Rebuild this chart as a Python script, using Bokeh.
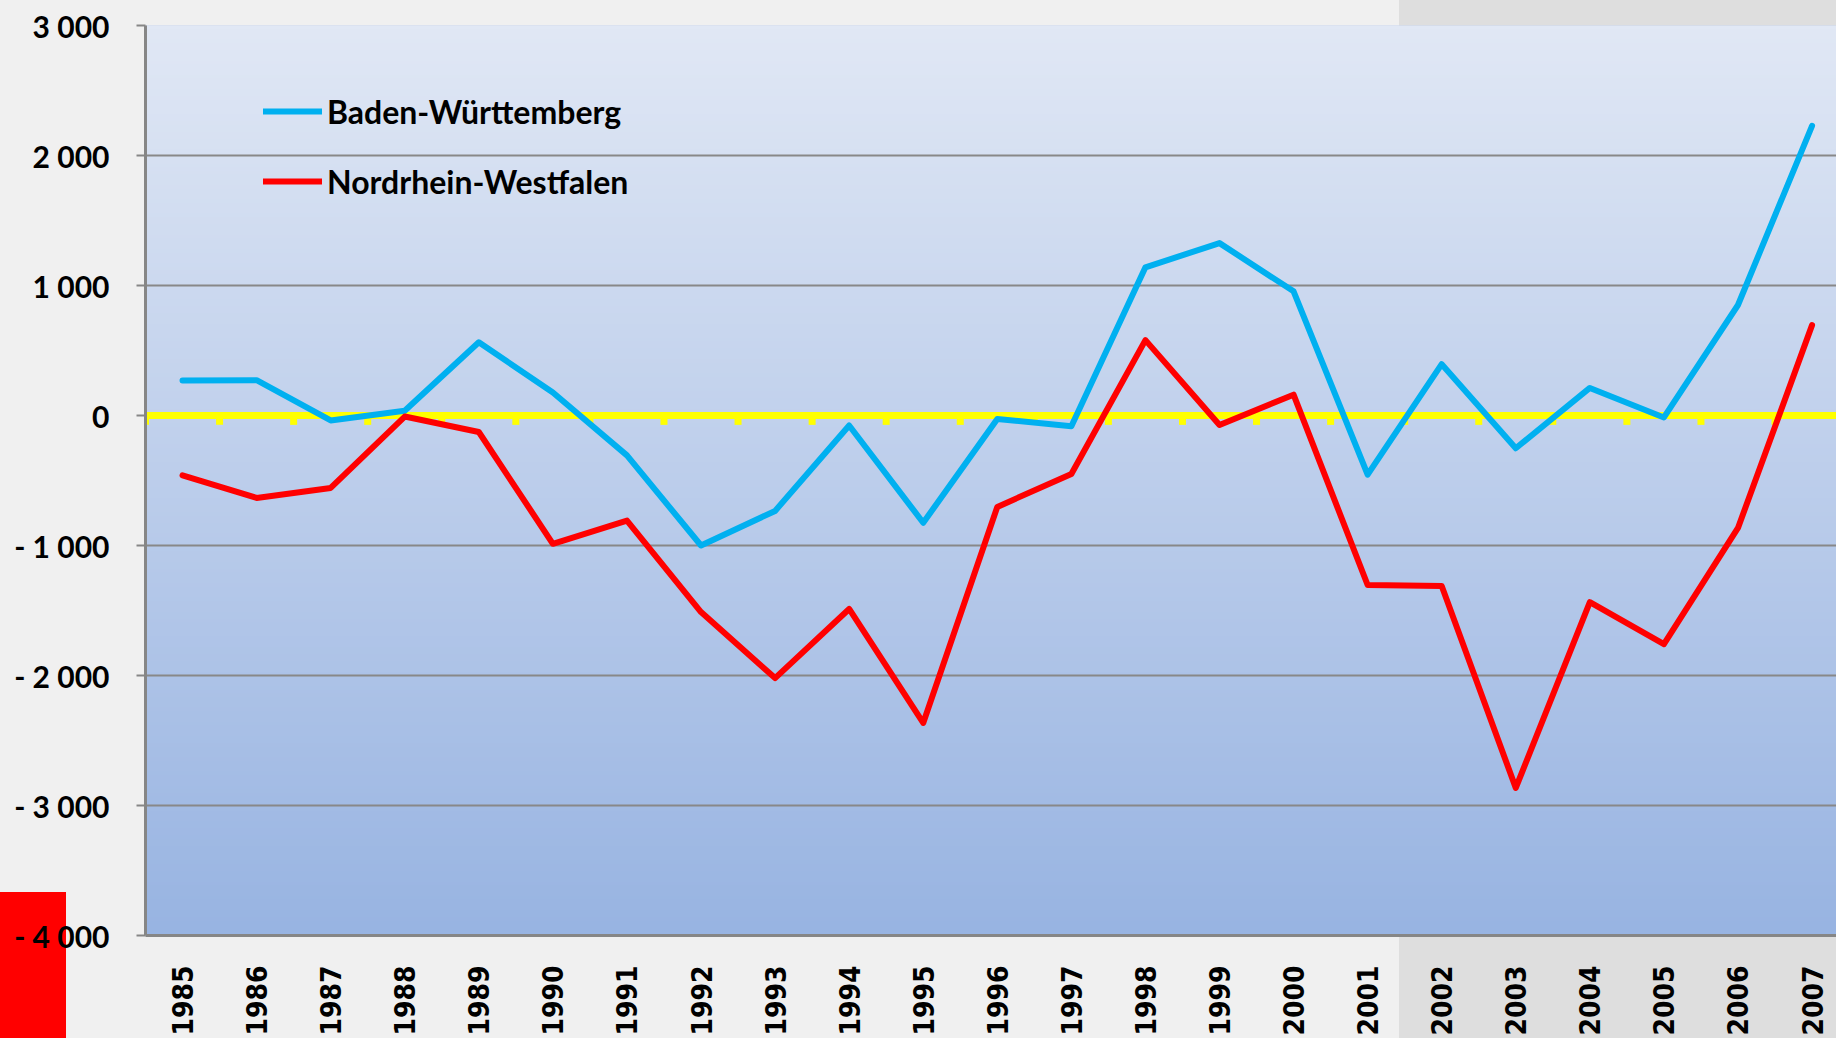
import math
import numpy as np
from bokeh.plotting import figure
from bokeh.models import FixedTicker, Range1d, Span, Legend, LegendItem, ColumnDataSource
from bokeh.embed import file_html
from bokeh.resources import INLINE

# ---- data ----
years = ["1985", "1986", "1987", "1988", "1989", "1990", "1991", "1992", "1993", "1994",
         "1995", "1996", "1997", "1998", "1999", "2000", "2001", "2002", "2003", "2004",
         "2005", "2006", "2007"]
baden_wuerttemberg = [269, 272, -38, 36, 563, 177, -307, -1000, -734, -77,
                      -825, -27, -82, 1140, 1326, 955, -455, 395, -252, 212,
                      -15, 850, 2228]
nordrhein_westfalen = [-460, -634, -557, -8, -127, -987, -808, -1512, -2020, -1488,
                       -2365, -703, -450, 580, -73, 160, -1304, -1312, -2865, -1436,
                       -1758, -865, 695]
y_ticks = [3000, 2000, 1000, 0, -1000, -2000, -3000, -4000]
y_tick_labels = ["3 000", "2 000", "1 000", "0", "- 1 000", "- 2 000", "- 3 000", "- 4 000"]
series_names = ["Baden-Württemberg", "Nordrhein-Westfalen"]

x_idx = list(range(len(years)))
src = ColumnDataSource(dict(x=x_idx, bw=baden_wuerttemberg, nrw=nordrhein_westfalen))

W, H = 1836, 1038
p = figure(width=W, height=H, output_backend="svg", toolbar_location=None,
           x_range=Range1d(-0.5, 22.33), y_range=Range1d(y_ticks[-1], y_ticks[0]),
           min_border_left=145, min_border_right=0, min_border_top=25, min_border_bottom=101)

p.border_fill_alpha = 0
p.outline_line_color = None
p.background_fill_color = "#c3d1ed"
p.styles = {
    "background-image": "linear-gradient(#ff0000, #ff0000), linear-gradient(to right, #f0f0f0 1399px, #dedede 1399px)",
    "background-size": "66px 146px, 100% 100%",
    "background-position": "0px 892px, 0px 0px",
    "background-repeat": "no-repeat",
}

# plot area gradient
N = 256
top = np.array([225, 232, 245], dtype=float)
bot = np.array([152, 180, 226], dtype=float)
t = np.linspace(0, 1, N)[:, None]  # 0 bottom -> 1 top
cols = (bot * (1 - t) + top * t).astype(np.uint32)
img = np.zeros((N, 1), dtype=np.uint32)
view = img.view(dtype=np.uint8).reshape((N, 1, 4))
view[:, 0, 0] = cols[:, 0]
view[:, 0, 1] = cols[:, 1]
view[:, 0, 2] = cols[:, 2]
view[:, 0, 3] = 255
p.image_rgba(image=[img], x=-0.5, y=y_ticks[-1], dw=23.0, dh=y_ticks[0] - y_ticks[-1], level="image")

# grid
p.xgrid.visible = False
p.ygrid.ticker = FixedTicker(ticks=y_ticks)
p.ygrid.grid_line_color = "#888888"
p.ygrid.grid_line_width = 2

# zero line (yellow) with ticks at category boundaries
zero = Span(location=0, dimension="width", line_color="#ffff00", line_width=7, level="underlay")
p.add_layout(zero)
bounds = [i - 0.5 for i in range(len(years) + 1)]
p.segment(x0=bounds, x1=bounds, y0=[0] * len(bounds), y1=[-72] * len(bounds),
          line_color="#ffff00", line_width=7, level="underlay")

# series
r_bw = p.line("x", "bw", source=src, line_color="#00b0f0", line_width=6, line_join="round", line_cap="round")
r_nrw = p.line("x", "nrw", source=src, line_color="#ff0000", line_width=6, line_join="round", line_cap="round")

# axes
p.yaxis.ticker = FixedTicker(ticks=y_ticks)
p.yaxis.major_label_overrides = {v: s for v, s in zip(y_ticks, y_tick_labels)}
p.yaxis.axis_line_color = "#868686"
p.yaxis.axis_line_width = 3
p.yaxis.major_tick_line_color = "#868686"
p.yaxis.major_tick_line_width = 2
p.yaxis.major_tick_out = 9
p.yaxis.major_tick_in = 0
p.yaxis.minor_tick_line_color = None
p.yaxis.major_label_standoff = 27
p.yaxis.major_label_text_font = "Lato"
p.yaxis.major_label_text_font_style = "bold"
p.yaxis.major_label_text_font_size = "30px"
p.yaxis.major_label_text_color = "#000000"

p.xaxis.ticker = FixedTicker(ticks=x_idx)
p.xaxis.major_label_overrides = {i: y for i, y in zip(x_idx, years)}
p.xaxis.axis_line_color = "#868686"
p.xaxis.axis_line_width = 3
p.xaxis.major_tick_line_color = None
p.xaxis.major_tick_out = 0
p.xaxis.major_tick_in = 0
p.xaxis.minor_tick_line_color = None
p.xaxis.major_label_orientation = math.pi / 2
p.xaxis.major_label_standoff = 30
p.xaxis.major_label_text_font = "DejaVu Sans Condensed"
p.xaxis.major_label_text_font_style = "bold"
p.xaxis.major_label_text_font_size = "28px"
p.xaxis.major_label_text_color = "#000000"

legend = Legend(items=[LegendItem(label=series_names[0], renderers=[r_bw]),
                       LegendItem(label=series_names[1], renderers=[r_nrw])],
                location=(118, 734), orientation="vertical",
                padding=0, margin=0, spacing=30,
                glyph_width=59, glyph_height=40, label_height=40, label_standoff=5,
                border_line_alpha=0, background_fill_alpha=0,
                label_text_font="Lato", label_text_font_style="bold",
                label_text_font_size="32px", label_text_color="#000000")
p.add_layout(legend)

open("out.html", "w").write(file_html(p, INLINE))
